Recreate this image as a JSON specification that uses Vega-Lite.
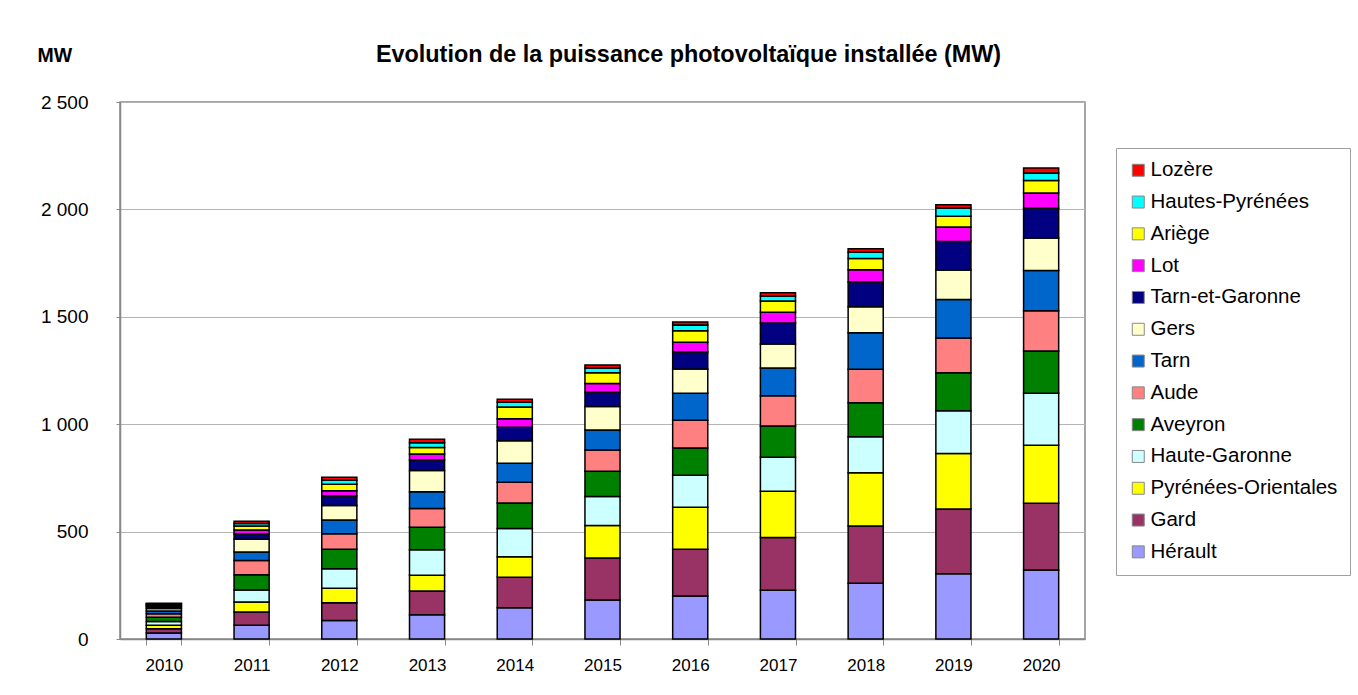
{
  "$schema": "https://vega.github.io/schema/vega-lite/v6.json",
  "autosize": {"type": "none"},
  "padding": {"left": 120, "top": 102, "right": 273, "bottom": 56},
  "width": 965,
  "height": 537,
  "background": "white",
  "title": {
    "text": "Evolution de la puissance photovoltaïque installée (MW)",
    "font": "Liberation Sans",
    "fontSize": 23.4,
    "fontWeight": "bold",
    "color": "black",
    "anchor": "middle",
    "dx": 86,
    "offset": -22
  },
  "data": {
    "values": [
      {"annee": "2010", "Hérault": 28, "Gard": 20, "Pyrénées-Orientales": 16, "Haute-Garonne": 18, "Aveyron": 19, "Aude": 17, "Tarn": 12, "Gers": 12, "Tarn-et-Garonne": 8, "Lot": 5, "Ariège": 6, "Hautes-Pyrénées": 3, "Lozère": 2},
      {"annee": "2011", "Hérault": 64, "Gard": 62, "Pyrénées-Orientales": 46, "Haute-Garonne": 56, "Aveyron": 71, "Aude": 66, "Tarn": 40, "Gers": 59, "Tarn-et-Garonne": 25, "Lot": 18, "Ariège": 19, "Hautes-Pyrénées": 12, "Lozère": 10},
      {"annee": "2012", "Hérault": 86, "Gard": 83, "Pyrénées-Orientales": 67, "Haute-Garonne": 91, "Aveyron": 91, "Aude": 72, "Tarn": 64, "Gers": 68, "Tarn-et-Garonne": 44, "Lot": 24, "Ariège": 30, "Hautes-Pyrénées": 19, "Lozère": 14},
      {"annee": "2013", "Hérault": 113, "Gard": 110, "Pyrénées-Orientales": 74, "Haute-Garonne": 119, "Aveyron": 104, "Aude": 87, "Tarn": 79, "Gers": 98, "Tarn-et-Garonne": 49, "Lot": 28, "Ariège": 31, "Hautes-Pyrénées": 22, "Lozère": 16},
      {"annee": "2014", "Hérault": 146, "Gard": 141, "Pyrénées-Orientales": 96, "Haute-Garonne": 132, "Aveyron": 118, "Aude": 97, "Tarn": 88, "Gers": 105, "Tarn-et-Garonne": 63, "Lot": 39, "Ariège": 55, "Hautes-Pyrénées": 22, "Lozère": 14},
      {"annee": "2015", "Hérault": 182, "Gard": 195, "Pyrénées-Orientales": 151, "Haute-Garonne": 135, "Aveyron": 118, "Aude": 99, "Tarn": 93, "Gers": 109, "Tarn-et-Garonne": 67, "Lot": 41, "Ariège": 50, "Hautes-Pyrénées": 22, "Lozère": 14},
      {"annee": "2016", "Hérault": 200, "Gard": 218, "Pyrénées-Orientales": 195, "Haute-Garonne": 149, "Aveyron": 127, "Aude": 129, "Tarn": 126, "Gers": 113, "Tarn-et-Garonne": 79, "Lot": 45, "Ariège": 54, "Hautes-Pyrénées": 27, "Lozère": 14},
      {"annee": "2017", "Hérault": 227, "Gard": 246, "Pyrénées-Orientales": 215, "Haute-Garonne": 158, "Aveyron": 146, "Aude": 141, "Tarn": 129, "Gers": 111, "Tarn-et-Garonne": 98, "Lot": 50, "Ariège": 53, "Hautes-Pyrénées": 23, "Lozère": 15},
      {"annee": "2018", "Hérault": 259, "Gard": 267, "Pyrénées-Orientales": 248, "Haute-Garonne": 168, "Aveyron": 158, "Aude": 156, "Tarn": 170, "Gers": 121, "Tarn-et-Garonne": 115, "Lot": 57, "Ariège": 52, "Hautes-Pyrénées": 30, "Lozère": 16},
      {"annee": "2019", "Hérault": 304, "Gard": 301, "Pyrénées-Orientales": 259, "Haute-Garonne": 199, "Aveyron": 177, "Aude": 161, "Tarn": 180, "Gers": 137, "Tarn-et-Garonne": 133, "Lot": 67, "Ariège": 50, "Hautes-Pyrénées": 38, "Lozère": 16},
      {"annee": "2020", "Hérault": 321, "Gard": 311, "Pyrénées-Orientales": 270, "Haute-Garonne": 242, "Aveyron": 197, "Aude": 187, "Tarn": 188, "Gers": 151, "Tarn-et-Garonne": 138, "Lot": 71, "Ariège": 58, "Hautes-Pyrénées": 35, "Lozère": 24}
    ]
  },
  "transform": [
    {"fold": ["Hérault", "Gard", "Pyrénées-Orientales", "Haute-Garonne", "Aveyron", "Aude", "Tarn", "Gers", "Tarn-et-Garonne", "Lot", "Ariège", "Hautes-Pyrénées", "Lozère"], "as": ["dept", "mw"]},
    {"calculate": "indexof(['Hérault','Gard','Pyrénées-Orientales','Haute-Garonne','Aveyron','Aude','Tarn','Gers','Tarn-et-Garonne','Lot','Ariège','Hautes-Pyrénées','Lozère'], datum.dept)", "as": "rang"}
  ],
  "mark": {"type": "bar", "stroke": "black", "strokeWidth": 1.5},
  "encoding": {
    "x": {
      "field": "annee",
      "type": "nominal",
      "scale": {"paddingInner": 0.6, "paddingOuter": 0.3},
      "axis": {
        "title": null,
        "labelAngle": 0,
        "labelFont": "Liberation Sans",
        "labelFontSize": 17,
        "labelColor": "black",
        "labelPadding": 12,
        "tickBand": "extent",
        "tickSize": 6,
        "tickColor": "#888888",
        "domainColor": "#888888",
        "domainWidth": 1.5,
        "grid": false
      }
    },
    "y": {
      "field": "mw",
      "type": "quantitative",
      "stack": "zero",
      "scale": {"domain": [0, 2500], "nice": false},
      "axis": {
        "title": "MW",
        "titleAngle": 0,
        "titleX": -83,
        "titleY": -47,
        "titleAlign": "left",
        "titleBaseline": "middle",
        "titleFont": "Liberation Sans",
        "titleFontSize": 19.5,
        "titleFontWeight": "bold",
        "titleColor": "black",
        "values": [0, 500, 1000, 1500, 2000, 2500],
        "labelExpr": "replace(format(datum.value, ','), ',', ' ')",
        "labelFont": "Liberation Sans",
        "labelFontSize": 19,
        "labelColor": "black",
        "labelPadding": 28,
        "tickSize": 4,
        "tickColor": "#888888",
        "domainColor": "#888888",
        "domainWidth": 1.5,
        "grid": true,
        "gridColor": "#b4b4b4",
        "gridWidth": 1.2
      }
    },
    "color": {
      "field": "dept",
      "type": "nominal",
      "scale": {
        "domain": ["Lozère", "Hautes-Pyrénées", "Ariège", "Lot", "Tarn-et-Garonne", "Gers", "Tarn", "Aude", "Aveyron", "Haute-Garonne", "Pyrénées-Orientales", "Gard", "Hérault"],
        "range": ["#FF0000", "#00FFFF", "#FFFF00", "#FF00FF", "#000080", "#FFFFCC", "#0066CC", "#FF8080", "#008000", "#CCFFFF", "#FFFF00", "#993366", "#9999FF"]
      },
      "legend": {
        "title": null,
        "orient": "none",
        "legendX": 996,
        "legendY": 46,
        "padding": 12,
        "strokeColor": "#a0a0a0",
        "fillColor": "white",
        "symbolType": "square",
        "symbolSize": 144,
        "symbolStrokeColor": "#888888",
        "symbolStrokeWidth": 1,
        "labelFont": "Liberation Sans",
        "labelFontSize": 20.5,
        "labelColor": "black",
        "labelOffset": 2,
        "labelLimit": 300,
        "rowPadding": 10.8
      }
    },
    "order": {"field": "rang", "type": "quantitative", "sort": "ascending"}
  },
  "config": {
    "view": {"stroke": "#888888", "strokeWidth": 1.5}
  }
}
